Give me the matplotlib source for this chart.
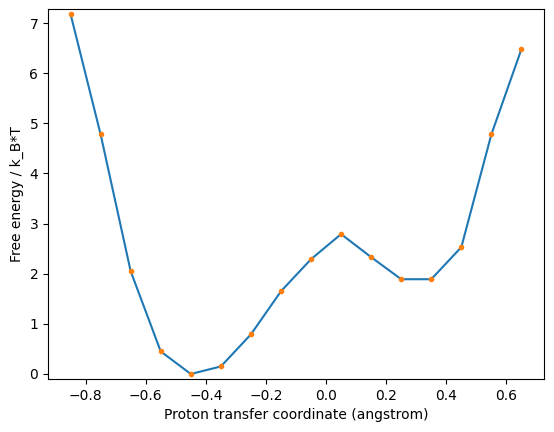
import numpy as np
import matplotlib
matplotlib.use("Agg")
import matplotlib.pyplot as plt

# Proton transfer coordinate (angstrom) and free energy in units of k_B*T
coord = [-0.85, -0.75, -0.65, -0.55, -0.45, -0.35, -0.25, -0.15,
         -0.05, 0.05, 0.15, 0.25, 0.35, 0.45, 0.55, 0.65]
energy = [7.18, 4.78, 2.05, 0.45, 0.0, 0.15, 0.79, 1.65,
          2.29, 2.79, 2.33, 1.89, 1.89, 2.53, 4.78, 6.48]

fig = plt.figure(figsize=(5.54, 4.32), dpi=100)
fig.subplots_adjust(left=48/554, right=544/554, top=1-9/432, bottom=1-379/432)
ax = fig.add_subplot(111)

ax.plot(coord, energy)        # curve
ax.plot(coord, energy, '.')   # sample points

ax.set_ylim(-0.1, 7.28)
ax.set_xlabel("Proton transfer coordinate (angstrom)")
ax.set_ylabel("Free energy / k_B*T")

fig.savefig("out.png", dpi=100)
